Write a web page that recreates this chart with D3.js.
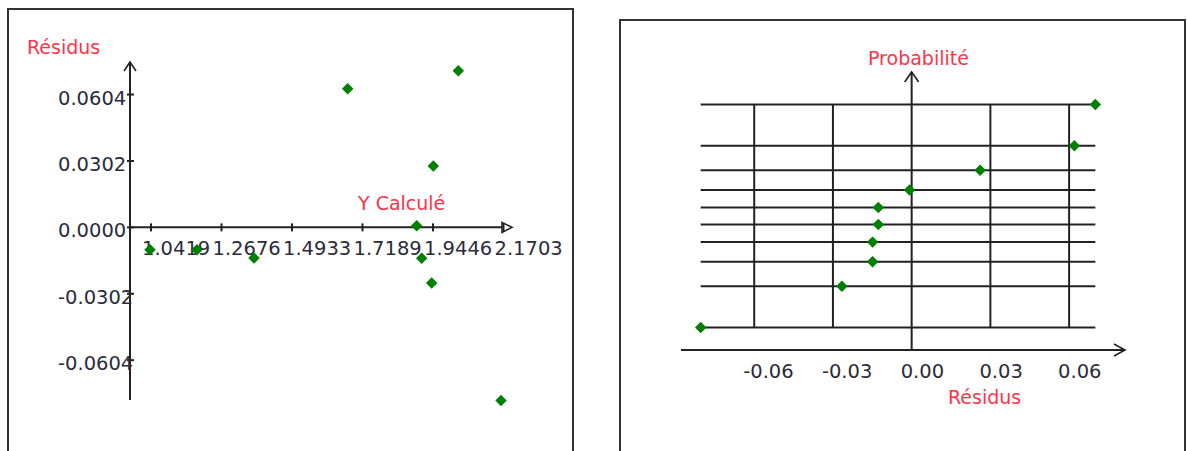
<!DOCTYPE html>
<html>
	<head>
		<title>Résidus</title>
        <style>
            body {
                margin: 0;
                background-color: white;
            }

            text {
                font-family: "DejaVu Sans", Verdana, sans-serif;
            }

            .num {
                font-size: 19.5px;
                fill: #2b2b3b;
            }

            .titre {
                font-size: 19px;
                fill: #ff3348;
            }
        </style>
    </head>
	<body>
    </body>
    <script src="https://d3js.org/d3.v7.min.js"></script>
    <script type="text/javascript" >
        // graphe des residus
        const yCalcule = [1.0387, 1.189, 1.3716, 1.6716, 2.0257, 1.9457, 1.8925, 1.9085, 1.9405, 2.1624];
        const residus = [-0.0102, -0.0102, -0.0139, 0.0630, 0.0712, 0.0279, 0.0007, -0.0140, -0.0253, -0.0787];
        const xTicks = [1.0419, 1.2676, 1.4933, 1.7189, 1.9446, 2.1703];
        const yTicks = [0.0604, 0.0302, 0, -0.0302, -0.0604];

        // droite de henry
        const residusTries = [-0.0804, -0.0266, -0.0149, -0.0149, -0.0127, -0.0127, -0.0008, 0.0261, 0.0620, 0.0700];
        const quantiles = [-1.645, -1.036, -0.674, -0.385, -0.126, 0.126, 0.385, 0.674, 1.036, 1.645];
        const probTicks = [-0.06, -0.03, 0, 0.03, 0.06];

        const w = 1187;
        const h = 451;
        const ink = "#222";
        const vert = "#008000";

        const svg = d3.select("body")
            .append("svg")
            .attr("width", w)
            .attr("height", h);

        // cadres
        svg.append("rect")
            .attr("x", 8).attr("y", 9)
            .attr("width", 565).attr("height", 470)
            .attr("fill", "none")
            .attr("stroke", "#333")
            .attr("stroke-width", 2);

        svg.append("rect")
            .attr("x", 620).attr("y", 20)
            .attr("width", 565).attr("height", 460)
            .attr("fill", "none")
            .attr("stroke", "#333")
            .attr("stroke-width", 2);

        const diamond = d3.symbol(d3.symbolSquare, 66);

        // ---------- panneau gauche ----------
        const xL = d3.scaleLinear().domain([0.9747, 2.1975]).range([130, 512]);
        const yL = d3.scaleLinear().domain([-0.0785, 0.0752]).range([400, 62]);
        const left = svg.append("g");

        const x0 = xL(xL.domain()[0]);
        const y0 = yL(0);
        const xTip = xL(xL.domain()[1]);
        const yTip = yL(yL.domain()[1]);

        // axe x
        left.append("line")
            .attr("x1", x0).attr("y1", y0)
            .attr("x2", xTip - 10).attr("y2", y0)
            .attr("stroke", ink).attr("stroke-width", 2);
        left.append("path")
            .attr("d", `M${xTip - 10},${y0 - 5}L${xTip},${y0}L${xTip - 10},${y0 + 5}Z`)
            .attr("fill", "white").attr("stroke", ink).attr("stroke-width", 1.6);

        // axe y
        left.append("line")
            .attr("x1", x0).attr("y1", yL(yL.domain()[0]))
            .attr("x2", x0).attr("y2", yTip)
            .attr("stroke", ink).attr("stroke-width", 2);
        left.append("path")
            .attr("d", `M${x0 - 6},${yTip + 9}L${x0},${yTip}L${x0 + 6},${yTip + 9}`)
            .attr("fill", "none").attr("stroke", ink).attr("stroke-width", 1.6);

        left.selectAll("line.xt")
            .data(xTicks)
            .enter()
            .append("line")
            .attr("class", "xt")
            .attr("x1", d => xL(d)).attr("x2", d => xL(d))
            .attr("y1", y0 - 4).attr("y2", y0 + 4)
            .attr("stroke", ink).attr("stroke-width", 2);

        left.selectAll("text.xt")
            .data(xTicks)
            .enter()
            .append("text")
            .attr("class", "num xt")
            .attr("x", d => xL(d) - 9)
            .attr("y", y0 + 28)
            .text(d => d.toFixed(4));

        left.selectAll("line.yt")
            .data(yTicks)
            .enter()
            .append("line")
            .attr("class", "yt")
            .attr("x1", x0 - 3).attr("x2", x0 + 4)
            .attr("y1", d => yL(d)).attr("y2", d => yL(d))
            .attr("stroke", ink).attr("stroke-width", 2);

        left.selectAll("text.yt")
            .data(yTicks)
            .enter()
            .append("text")
            .attr("class", "num yt")
            .attr("x", 58)
            .attr("y", d => yL(d) + 10)
            .text(d => d.toFixed(4));

        left.append("text").attr("class", "titre")
            .attr("x", 27).attr("y", 54).text("Résidus");
        left.append("text").attr("class", "titre")
            .attr("x", 358).attr("y", 210).text("Y Calculé");

        left.selectAll("path.pt")
            .data(residus)
            .enter()
            .append("path")
            .attr("class", "pt")
            .attr("d", diamond)
            .attr("transform", (d, i) => `translate(${xL(yCalcule[i])},${yL(d)}) rotate(45)`)
            .attr("fill", vert);

        // ---------- panneau droit ----------
        const xR = d3.scaleLinear().domain([-0.0879, 0.0813]).range([681, 1125]);
        const yR = d3.scaleLinear().domain([-1.976, 2.124]).range([350, 72]);
        const right = svg.append("g");

        const [rMin, rMax] = d3.extent(residusTries);
        const [qMin, qMax] = d3.extent(quantiles);
        const axeY = yR(yR.domain()[0]);
        const axeX = xR(0);
        const tipX = xR(xR.domain()[1]);
        const tipY = yR(yR.domain()[1]);

        right.selectAll("line.hg")
            .data(quantiles)
            .enter()
            .append("line")
            .attr("class", "hg")
            .attr("x1", xR(rMin)).attr("x2", xR(rMax))
            .attr("y1", d => yR(d)).attr("y2", d => yR(d))
            .attr("stroke", ink).attr("stroke-width", 2);

        right.selectAll("line.vg")
            .data(probTicks.filter(d => d !== 0))
            .enter()
            .append("line")
            .attr("class", "vg")
            .attr("x1", d => xR(d)).attr("x2", d => xR(d))
            .attr("y1", yR(qMin)).attr("y2", yR(qMax))
            .attr("stroke", ink).attr("stroke-width", 2);

        // axes
        right.append("line")
            .attr("x1", xR(xR.domain()[0])).attr("y1", axeY)
            .attr("x2", tipX).attr("y2", axeY)
            .attr("stroke", ink).attr("stroke-width", 2);
        right.append("path")
            .attr("d", `M${tipX - 11},${axeY - 6}L${tipX},${axeY}L${tipX - 11},${axeY + 6}`)
            .attr("fill", "none").attr("stroke", ink).attr("stroke-width", 1.6);

        right.append("line")
            .attr("x1", axeX).attr("y1", axeY)
            .attr("x2", axeX).attr("y2", tipY)
            .attr("stroke", ink).attr("stroke-width", 2);
        right.append("path")
            .attr("d", `M${axeX - 7},${tipY + 10}L${axeX},${tipY}L${axeX + 7},${tipY + 10}`)
            .attr("fill", "none").attr("stroke", ink).attr("stroke-width", 1.6);

        right.selectAll("text.xt")
            .data(probTicks)
            .enter()
            .append("text")
            .attr("class", "num xt")
            .attr("x", d => xR(d) - 11)
            .attr("y", axeY + 28)
            .text(d => d.toFixed(2));

        right.append("text").attr("class", "titre")
            .attr("x", 868).attr("y", 65).text("Probabilité");
        right.append("text").attr("class", "titre")
            .attr("x", 948).attr("y", 404).text("Résidus");

        right.selectAll("path.pt")
            .data(residusTries)
            .enter()
            .append("path")
            .attr("class", "pt")
            .attr("d", diamond)
            .attr("transform", (d, i) => `translate(${xR(d)},${yR(quantiles[i])}) rotate(45)`)
            .attr("fill", vert);
    </script>
</html>
